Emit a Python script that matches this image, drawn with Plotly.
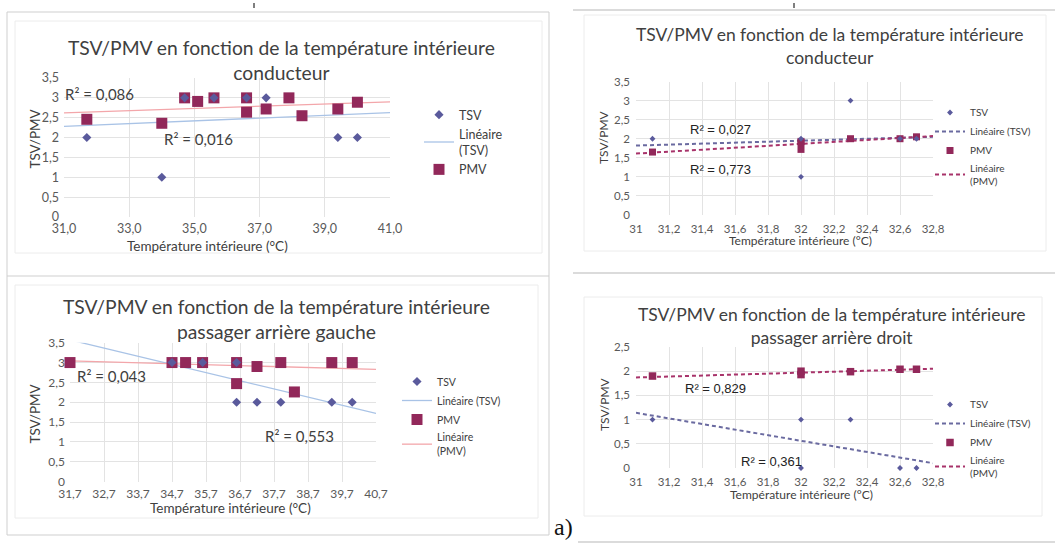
import plotly.graph_objects as go

W, H = 1055, 544

# ---------------- data ----------------
# conducteur (large temperature range)
temp_p1 = [31.7, 34.0, 34.7, 35.1, 35.6, 36.6, 36.6, 37.2, 37.9, 38.3, 39.4, 40.0]
tsv_p1 = [2, 1, 3, None, 3, 3, None, 3, None, None, 2, 2]
pmv_p1 = [2.46, 2.36, 3.0, 2.91, 3.0, 3.0, 2.64, 2.72, 3.0, 2.55, 2.72, 2.89]
trend_x_p1 = [31.0, 41.0]
trend_tsv_p1 = [2.28, 2.63]
trend_pmv_p1 = [2.62, 2.90]
r2_tsv_p1, r2_pmv_p1 = "0,016", "0,086"

# conducteur (narrow temperature range)
temp_p2 = [31.1, 32.0, 32.0, 32.0, 32.3, 32.6, 32.7]
tsv_p2 = [2, 2, 1, None, 3, 2, 2]
pmv_p2 = [1.65, 1.93, 1.72, 1.90, 2.0, 2.0, 2.05]
trend_x_p2 = [31.0, 32.8]
trend_tsv_p2 = [1.82, 2.05]
trend_pmv_p2 = [1.61, 2.07]
r2_tsv_p2, r2_pmv_p2 = "0,027", "0,773"

# passager arrière gauche
temp_p3 = [31.7, 34.7, 35.1, 35.6, 36.6, 36.6, 37.2, 37.9, 38.3, 39.4, 40.0]
tsv_p3 = [None, 3, None, 3, 3, 2, 2, 2, None, 2, 2]
pmv_p3 = [3.0, 3.0, 3.0, 3.0, 3.0, 2.47, 2.9, 3.0, 2.26, 3.0, 3.0]
trend_x_p3 = [31.7, 40.7]
trend_tsv_p3 = [3.57, 1.72]
trend_pmv_p3 = [3.04, 2.83]
r2_tsv_p3, r2_pmv_p3 = "0,553", "0,043"

# passager arrière droit
temp_p4 = [31.1, 32.0, 32.0, 32.3, 32.6, 32.7]
tsv_p4 = [1, 1, 0, 1, 0, 0]
pmv_p4 = [1.90, 2.0, 1.93, 1.99, 2.04, 2.04]
trend_x_p4 = [31.0, 32.8]
trend_tsv_p4 = [1.14, 0.10]
trend_pmv_p4 = [1.87, 2.05]
r2_tsv_p4, r2_pmv_p4 = "0,361", "0,829"

# axis ticks
xt_p1 = [31, 33, 35, 37, 39, 41]
xl_p1 = ["31,0", "33,0", "35,0", "37,0", "39,0", "41,0"]
xt_p2 = [31, 31.2, 31.4, 31.6, 31.8, 32, 32.2, 32.4, 32.6, 32.8]
xl_p2 = ["31", "31,2", "31,4", "31,6", "31,8", "32", "32,2", "32,4", "32,6", "32,8"]
xt_p3 = [31.7, 32.7, 33.7, 34.7, 35.7, 36.7, 37.7, 38.7, 39.7, 40.7]
xl_p3 = ["31,7", "32,7", "33,7", "34,7", "35,7", "36,7", "37,7", "38,7", "39,7", "40,7"]
yt_35 = [0, 0.5, 1, 1.5, 2, 2.5, 3, 3.5]
yl_35 = ["0", "0,5", "1", "1,5", "2", "2,5", "3", "3,5"]
yt_25 = [0, 0.5, 1, 1.5, 2, 2.5]
yl_25 = ["0", "0,5", "1", "1,5", "2", "2,5"]

TITLE_L1 = "TSV/PMV en fonction de la température intérieure"
XTITLE = "Température intérieure (°C)"
YTITLE = "TSV/PMV"

# ---------------- styling ----------------
SANS = "Lato"
ARIAL = "Liberation Sans"
C_TSV = "#5a5a9c"
C_PMV = "#92285a"
C_TSV_LIN = "#a9c3e6"
C_PMV_LIN = "#f3a6aa"
C_TSV_DASH = "#6a6aa0"
C_PMV_DASH = "#a8336a"
GRID = "#e3e3e3"
TXT = "#404040"
TICK = "#595959"


def fx(px):
    return px / W


def fy(py):
    return 1 - py / H


# plot areas in pixels: (left, right, top, bottom)
areas = {
    1: (64, 390, 78, 217),
    2: (636, 933, 81.5, 215),
    3: (70, 376, 342.7, 481.7),
    4: (636, 933, 347, 468),
}

fig = go.Figure()

panels = [
    # n, temps, tsv, pmv, trend x, trend tsv, trend pmv, dashed, marker sizes (diamond, square)
    (1, temp_p1, tsv_p1, pmv_p1, trend_x_p1, trend_tsv_p1, trend_pmv_p1, False, (7, 11)),
    (2, temp_p2, tsv_p2, pmv_p2, trend_x_p2, trend_tsv_p2, trend_pmv_p2, True, (4.5, 7)),
    (3, temp_p3, tsv_p3, pmv_p3, trend_x_p3, trend_tsv_p3, trend_pmv_p3, False, (7, 11)),
    (4, temp_p4, tsv_p4, pmv_p4, trend_x_p4, trend_tsv_p4, trend_pmv_p4, True, (4.5, 7.5)),
]

for n, tx, tsv, pmv, trx, trt, trp, dashed, (sd, ss) in panels:
    xa = "x" if n == 1 else f"x{n}"
    ya = "y" if n == 1 else f"y{n}"
    leg = "legend" if n == 1 else f"legend{n}"
    if dashed:
        lt = dict(color=C_TSV_DASH, width=2, dash="4px,3px")
        lp = dict(color=C_PMV_DASH, width=2, dash="4px,3px")
    else:
        lt = dict(color=C_TSV_LIN, width=1.3)
        lp = dict(color=C_PMV_LIN, width=1.3)
    lin_tsv = "Linéaire<br>(TSV)" if n == 1 else "Linéaire (TSV)"
    # trend lines
    fig.add_trace(go.Scatter(x=trx, y=trt, mode="lines", line=lt, name=lin_tsv,
                             xaxis=xa, yaxis=ya, legend=leg, legendrank=2, hoverinfo="skip"))
    fig.add_trace(go.Scatter(x=trx, y=trp, mode="lines", line=lp, name="Linéaire<br>(PMV)",
                             xaxis=xa, yaxis=ya, legend=leg, legendrank=4,
                             showlegend=(n != 1), hoverinfo="skip"))
    # PMV squares, TSV diamonds drawn on top
    fig.add_trace(go.Scatter(x=tx, y=pmv, mode="markers", name="PMV",
                             marker=dict(symbol="square", size=ss, color=C_PMV,
                                         line=dict(width=0)),
                             cliponaxis=False, xaxis=xa, yaxis=ya, legend=leg, legendrank=3))
    fig.add_trace(go.Scatter(x=tx, y=tsv, mode="markers", name="TSV",
                             marker=dict(symbol="diamond", size=sd, color=C_TSV,
                                         line=dict(width=0)),
                             cliponaxis=False, xaxis=xa, yaxis=ya, legend=leg, legendrank=1))


def xaxis(n, rng, tv, tl, fs, standoff):
    l, r, t, b = areas[n]
    return dict(domain=[fx(l), fx(r)], range=rng, tickvals=tv, ticktext=tl,
                anchor="y" if n == 1 else f"y{n}", showgrid=True, gridcolor=GRID,
                gridwidth=1, zeroline=False, showline=False, ticks="",
                ticklabelstandoff=standoff,
                tickfont=dict(family=SANS, size=fs, color=TICK), fixedrange=True,
                automargin=False)


def yaxis(n, rng, tv, tl, fs, standoff):
    l, r, t, b = areas[n]
    return dict(domain=[fy(b), fy(t)], range=rng, tickvals=tv, ticktext=tl,
                anchor="x" if n == 1 else f"x{n}", showgrid=True, gridcolor=GRID,
                gridwidth=1, zeroline=False, showline=False, ticks="",
                ticklabelstandoff=standoff,
                tickfont=dict(family=SANS, size=fs, color=TICK), fixedrange=True,
                automargin=False)


layout = dict(
    width=W, height=H, margin=dict(l=0, r=0, t=0, b=0),
    paper_bgcolor="white", plot_bgcolor="white", template="none",
    font=dict(family=SANS, color=TXT),
    xaxis=xaxis(1, [31, 41], xt_p1, xl_p1, 12.5, 2),
    yaxis=yaxis(1, [0, 3.5], yt_35, yl_35, 12.5, 4),
    xaxis2=xaxis(2, [31, 32.8], xt_p2, xl_p2, 11.5, 5),
    yaxis2=yaxis(2, [0, 3.5], yt_35, yl_35, 11.5, 5),
    xaxis3=xaxis(3, [31.7, 40.7], xt_p3, xl_p3, 12, 3),
    yaxis3=yaxis(3, [0, 3.5], yt_35, yl_35, 12, 4),
    xaxis4=xaxis(4, [31, 32.8], xt_p2, xl_p2, 11.5, 5),
    yaxis4=yaxis(4, [0, 2.5], yt_25, yl_25, 11.5, 5),
    showlegend=True,
)


def legend(left_px, top_px, fs):
    return dict(x=fx(left_px), y=fy(top_px), xanchor="left", yanchor="top",
                bgcolor="rgba(0,0,0,0)", borderwidth=0, tracegroupgap=0,
                font=dict(family=SANS, size=fs, color=TXT), itemwidth=30)


layout["legend"] = legend(419, 100, 12.5)
layout["legend2"] = legend(930, 98, 10)
layout["legend3"] = legend(397, 367, 10.5)
layout["legend4"] = legend(930, 390, 10)

fig.update_layout(**layout)

ann = []


def text(x, y, s, size, family=SANS, color=TXT, angle=0, xref="paper", yref="paper",
         xanchor="center", yanchor="middle"):
    ann.append(dict(x=x, y=y, text=s, showarrow=False, xref=xref, yref=yref,
                    xanchor=xanchor, yanchor=yanchor, textangle=angle,
                    font=dict(family=family, size=size, color=color)))


# chart titles
text(fx(281), fy(59.5), TITLE_L1 + "<br>conducteur", 19.3)
text(fx(829), fy(46.5), TITLE_L1 + "<br>conducteur", 17.5)
text(fx(276), fy(319), TITLE_L1 + "<br>passager arrière gauche", 19.3)
text(fx(831), fy(326), TITLE_L1 + "<br>passager arrière droit", 17.5)

# axis titles
text(fx(207), fy(246), XTITLE, 13.5)
text(fx(800), fy(240), XTITLE, 12)
text(fx(230), fy(508), XTITLE, 13.5)
text(fx(801), fy(494), XTITLE, 12)
text(fx(34), fy(138.5), YTITLE, 13.5, angle=-90)
text(fx(603), fy(137), YTITLE, 12, angle=-90)
text(fx(34), fy(413.5), YTITLE, 13.5, angle=-90)
text(fx(604), fy(404), YTITLE, 12, angle=-90)

# coefficient of determination labels (data coordinates)
text(32.10, 3.10, "R² = " + r2_pmv_p1, 15, xref="x", yref="y")
text(35.14, 1.96, "R² = " + r2_tsv_p1, 15, xref="x", yref="y")
text(31.51, 2.23, "R² = " + r2_tsv_p2, 13, family=ARIAL, color="#222", xref="x2", yref="y2")
text(31.51, 1.18, "R² = " + r2_pmv_p2, 13, family=ARIAL, color="#222", xref="x2", yref="y2")
text(32.91, 2.66, "R² = " + r2_pmv_p3, 15, xref="x3", yref="y3")
text(38.44, 1.15, "R² = " + r2_tsv_p3, 15, xref="x3", yref="y3")
text(31.48, 1.65, "R² = " + r2_pmv_p4, 13, family=ARIAL, color="#222", xref="x4", yref="y4")
text(31.82, 0.14, "R² = " + r2_tsv_p4, 13, family=ARIAL, color="#222", xref="x4", yref="y4")

# figure label
text(fx(563), fy(527), "a)", 24, family="Liberation Serif", color="#111")

fig.update_layout(annotations=ann)

# page frames around the charts
shapes = []


def rect(x0, y0, x1, y1, color, w=1):
    shapes.append(dict(type="rect", xref="paper", yref="paper", x0=fx(x0), x1=fx(x1),
                       y0=fy(y1), y1=fy(y0), line=dict(color=color, width=w),
                       fillcolor="rgba(0,0,0,0)", layer="below"))


def seg(x0, y0, x1, y1, color, w=1):
    shapes.append(dict(type="line", xref="paper", yref="paper", x0=fx(x0), x1=fx(x1),
                       y0=fy(y0), y1=fy(y1), line=dict(color=color, width=w),
                       layer="below"))


OUTER = "#cfcfcf"
INNER = "#ececec"
rect(7, 12, 549, 535, OUTER)
seg(7, 276, 549, 276, OUTER)
seg(573, 10, 1055, 10, OUTER, 1.5)
seg(573, 273, 1055, 273, OUTER, 1.5)
seg(578, 542, 1055, 542, OUTER, 1.5)
rect(15, 21, 542, 253, INNER)
rect(15, 285, 538, 518, INNER)
rect(584, 15, 1046, 251, INNER)
rect(584, 297, 1042, 516, INNER)
seg(254, 3, 254, 8, "#555", 1.5)
seg(794, 3, 794, 8, "#555", 1.5)
fig.update_layout(shapes=shapes)

fig.write_html("out.html")
